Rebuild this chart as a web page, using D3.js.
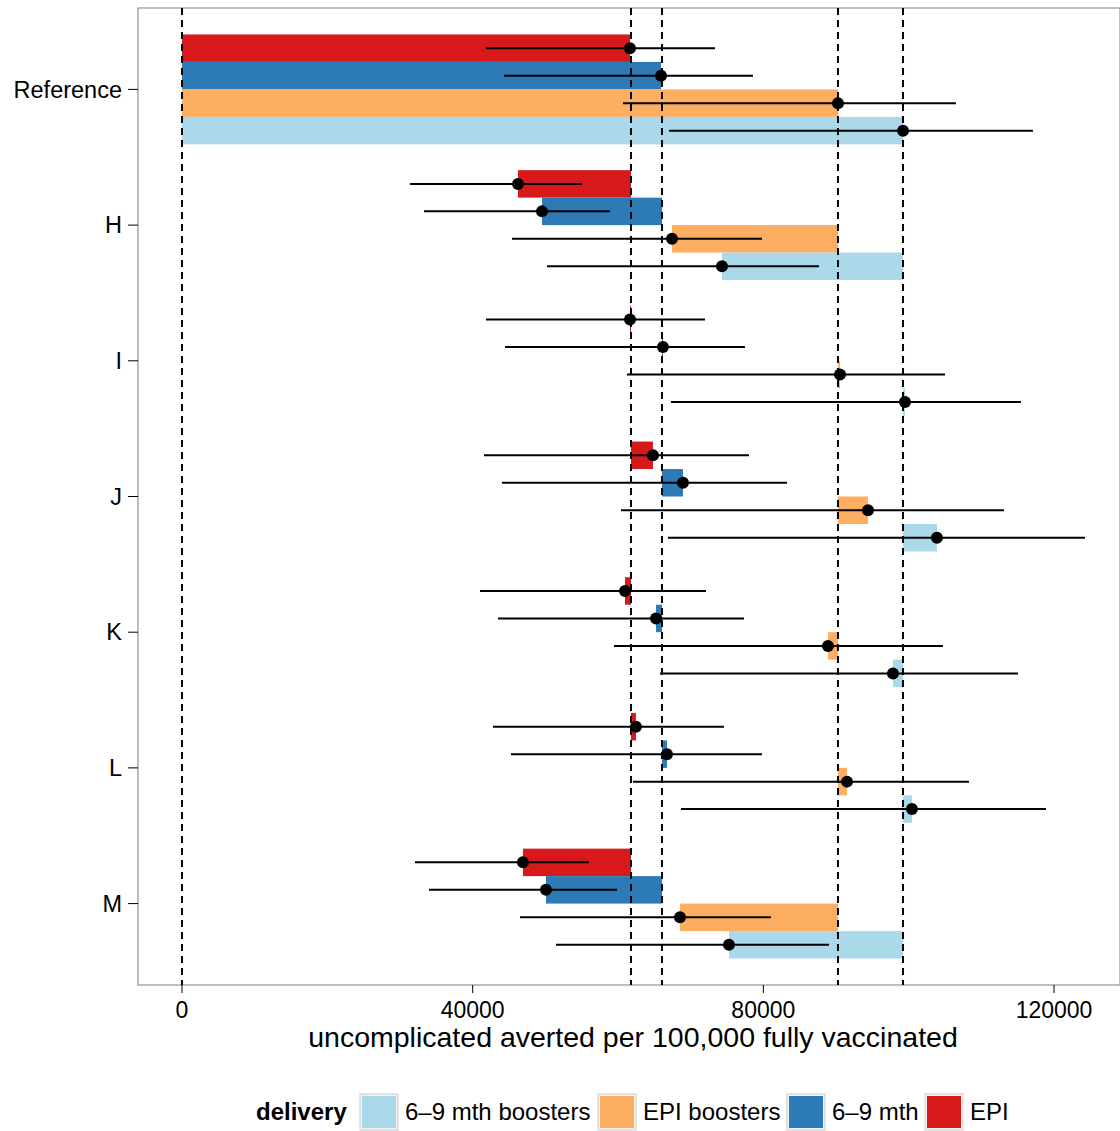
<!DOCTYPE html>
<html><head><meta charset="utf-8">
<script src="https://cdn.jsdelivr.net/npm/d3@7"></script>
<style>body{margin:0;background:#fff}text{font-family:"Liberation Sans",Arial,sans-serif}</style>
</head><body><svg id="c" width="1120" height="1131"></svg>
<script>
const categories=["Reference","H","I","J","K","L","M"];
const series=["EPI","6\u20139 mth","EPI boosters","6\u20139 mth boosters"];
const colors=["#d7191c","#2c7bb6","#fdae61","#abd9e9"];
const refValues=[61790,66050,90270,99220];
const points=[[61650,65920,90270,99220],[46240,49540,67430,74310],[61650,66190,90550,99490],[64810,68940,94400,103890],[60960,65230,88890,97840],[62470,66740,91510,100450],[46920,50090,68530,75270]];
const lows=[[41830,44310,60690,67020],[31370,33300,45410,50230],[41830,44450,61240,67290],[41560,44030,60410,66880],[41010,43480,59450,65780],[42800,45270,62060,68670],[32060,33990,46510,51460]];
const highs=[[73350,78570,106500,117100],[55040,58900,79810,87660],[71970,77470,105000,115450],[78020,83250,113110,124260],[72110,77340,104720,115040],[74580,79810,108300,118890],[56000,59860,81050,89030]];
const xTicks=[0,40000,80000,120000];
const legendOrder=[3,2,1,0];

const svg=d3.select("#c");
const L=138,R=1120,T=8,B=985;
const x=d3.scaleLinear().domain([-6055,129080]).range([L,R]);
const y=d3.scaleLinear().domain([-0.6,6.6]).range([T,B]);
const bw=0.81/4;
const sub=(i,j)=>i-0.405+bw*(j+0.5);
svg.append("rect").attr("x",L).attr("y",T).attr("width",R-L).attr("height",B-T).attr("fill","#fff").attr("stroke","#7f7f7f");
const g=svg.append("g");
categories.forEach((c,i)=>{
  series.forEach((s,j)=>{
    const a=i===0?0:refValues[j], b=points[i][j];
    g.append("rect").attr("x",x(Math.min(a,b))).attr("width",Math.abs(x(b)-x(a)))
     .attr("y",y(sub(i,j)-bw/2)).attr("height",y(bw)-y(0)).attr("fill",colors[j]);
  });
});
[0,...refValues].forEach(v=>g.append("line").attr("x1",x(v)).attr("x2",x(v)).attr("y1",T).attr("y2",B)
  .attr("stroke","#000").attr("stroke-width",2).attr("stroke-dasharray","7,5"));
categories.forEach((c,i)=>{
  series.forEach((s,j)=>{
    const yy=y(sub(i,j));
    g.append("line").attr("x1",x(lows[i][j])).attr("x2",x(highs[i][j])).attr("y1",yy).attr("y2",yy).attr("stroke","#000").attr("stroke-width",2);
    g.append("circle").attr("cx",x(points[i][j])).attr("cy",yy).attr("r",6).attr("fill","#000");
  });
});
categories.forEach((c,i)=>{
  svg.append("line").attr("x1",L-10).attr("x2",L).attr("y1",y(i)).attr("y2",y(i)).attr("stroke","#000");
  svg.append("text").attr("x",L-16).attr("y",y(i)).attr("dy","0.35em").attr("text-anchor","end").attr("font-size",23.5).text(c);
});
xTicks.forEach(t=>{
  svg.append("line").attr("x1",x(t)).attr("x2",x(t)).attr("y1",B).attr("y2",B+8).attr("stroke","#000");
  svg.append("text").attr("x",x(t)).attr("y",1018).attr("text-anchor","middle").attr("font-size",23).text(t);
});
svg.append("text").attr("x",633).attr("y",1047).attr("text-anchor","middle").attr("font-size",28.5).text("uncomplicated averted per 100,000 fully vaccinated");
svg.append("text").attr("x",256).attr("y",1120).attr("font-size",24).attr("font-weight","bold").text("delivery");
const lx=[360,598,787,925];
legendOrder.forEach((j,k)=>{
  svg.append("rect").attr("x",lx[k]).attr("y",1094).attr("width",38).attr("height",36).attr("fill","#f2f2f2").attr("stroke","#ccc");
  svg.append("rect").attr("x",lx[k]+2).attr("y",1096).attr("width",34).attr("height",32).attr("fill",colors[j]);
  svg.append("text").attr("x",lx[k]+45).attr("y",1120).attr("font-size",24).text(series[j]);
});
</script></body></html>
